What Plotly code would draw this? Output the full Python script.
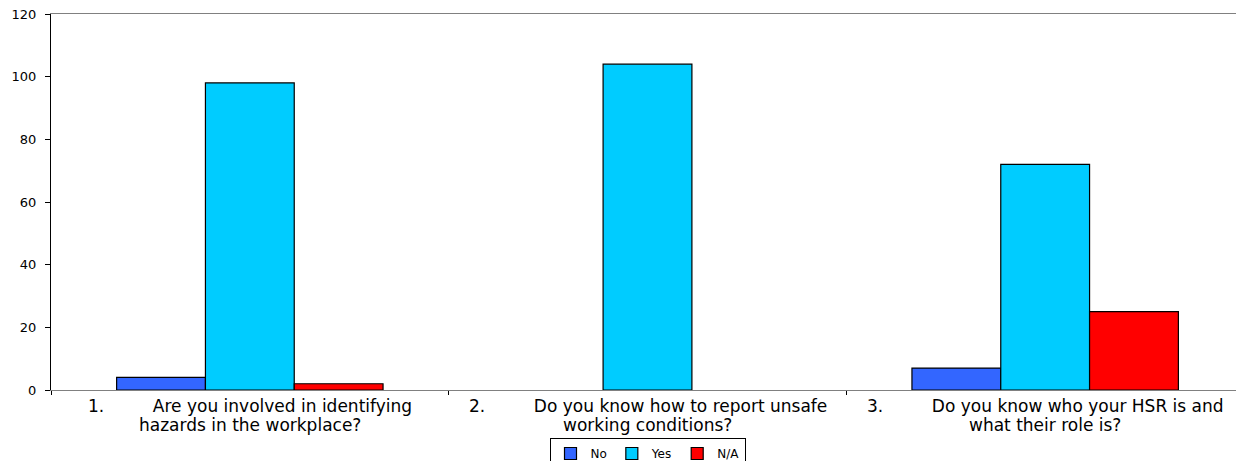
import plotly.graph_objects as go

NB = "\u00a0"
categories = ["Q1", "Q2", "Q3"]
label_line1 = [
    "1." + NB * 9 + "Are you involved in identifying",
    "2." + NB * 9 + "Do you know how to report unsafe",
    "3." + NB * 9 + "Do you know who your HSR is and",
]
label_line2 = [
    "hazards in the workplace?",
    "working conditions?",
    "what their role is?",
]
series_names = ["No", "Yes", "N/A"]
no_vals = [4, None, 7]
yes_vals = [98, 104, 72]
na_vals = [2, None, 25]
colors = ["#3366FF", "#00CCFF", "#FF0000"]
y_ticks = [0, 20, 40, 60, 80, 100, 120]

fig = go.Figure()
for name, vals, col in zip(series_names, [no_vals, yes_vals, na_vals], colors):
    fig.add_trace(go.Bar(
        x=categories, y=vals, name=name,
        marker=dict(color=col, line=dict(color="#000000", width=1.2)),
    ))

for cat, l1, l2 in zip(categories, label_line1, label_line2):
    for txt, yy in ((l1, -0.0426), (l2, -0.0931)):
        fig.add_annotation(
            x=cat, xref="x", y=yy, yref="paper", text=txt, showarrow=False,
            xanchor="center", yanchor="middle",
            font=dict(size=17, family="DejaVu Sans, sans-serif", color="#000000"),
        )

# body of the html page has an 8px margin, so compensate
fig.update_layout(
    width=1236, height=453,
    margin=dict(l=43, r=0, t=6, b=71, autoexpand=False),
    paper_bgcolor="white", plot_bgcolor="white",
    barmode="group", bargap=0.33, bargroupgap=0,
    font=dict(family="DejaVu Sans, Liberation Sans, sans-serif", color="#000000"),
    showlegend=True,
    legend=dict(
        orientation="h", x=0.5, xanchor="center", y=-0.1277, yanchor="top",
        bordercolor="#000000", borderwidth=1, font=dict(size=12),
        itemwidth=30, tracegroupgap=0,
    ),
)
fig.update_xaxes(
    showline=True, linecolor="#808080", linewidth=1, mirror=True,
    ticks="outside", tickson="boundaries", ticklen=4, tickcolor="#000000",
    showticklabels=False, showgrid=False, automargin=False,
)
fig.update_yaxes(
    range=[0, 120.001], tickvals=y_ticks, showline=True, linecolor="#000000",
    linewidth=1, ticks="outside", ticklen=5, tickcolor="#000000",
    tickfont=dict(size=13), ticklabelstandoff=6, ticklabeloverflow="allow",
    showgrid=False, zeroline=False, automargin=False,
)
fig.write_html("out.html")
